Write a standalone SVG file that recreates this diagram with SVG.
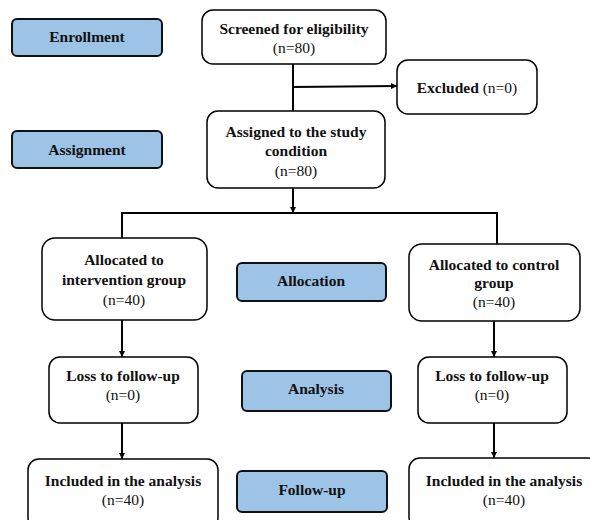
<svg xmlns="http://www.w3.org/2000/svg" width="590" height="520" viewBox="0 0 590 520">
<defs>
<marker id="ah" viewBox="0 0 10 10" refX="10" refY="5" markerWidth="6" markerHeight="6" orient="auto" markerUnits="userSpaceOnUse">
<path d="M0,0 L10,5 L0,10 z" fill="#000"/>
</marker>
</defs>
<style>
.box{fill:#fff;stroke:#000;stroke-width:1.5}
.lab{fill:#9DC3E6;stroke:#111;stroke-width:2}
.t{font-size:15.5px;fill:#111;text-anchor:middle}
.b{font-weight:bold}
.c{fill:none;stroke:#000;stroke-width:2}
</style>
<rect width="590" height="520" fill="#fff"/>
<g id="connectors">
<line class="c" x1="293" y1="64" x2="293" y2="111"/>
<line class="c" x1="293" y1="87" x2="397" y2="86" marker-end="url(#ah)"/>
<line class="c" x1="293" y1="188" x2="293" y2="213" marker-end="url(#ah)"/>
<polyline class="c" points="122,238 122,213 497,213 497,244"/>
<line class="c" x1="122" y1="320" x2="122" y2="357" marker-end="url(#ah)"/>
<line class="c" x1="494" y1="321" x2="494" y2="357" marker-end="url(#ah)"/>
<line class="c" x1="122" y1="423" x2="122" y2="459" marker-end="url(#ah)"/>
<line class="c" x1="494" y1="423" x2="494" y2="458" marker-end="url(#ah)"/>
</g>
<g font-family="Liberation Serif, Times New Roman, serif">
<g id="enrollment"><rect class="lab" x="12" y="19" width="150" height="37" rx="5"/><text class="t b" x="87" y="42">Enrollment</text></g>
<g id="assignment"><rect class="lab" x="12" y="131" width="150" height="37" rx="5"/><text class="t b" x="87" y="155">Assignment</text></g>
<g id="allocation"><rect class="lab" x="237" y="263" width="149" height="38" rx="5"/><text class="t b" x="311" y="286">Allocation</text></g>
<g id="analysis"><rect class="lab" x="242" y="371" width="149" height="40" rx="5"/><text class="t b" x="316" y="394">Analysis</text></g>
<g id="followup"><rect class="lab" x="237" y="471" width="150" height="41" rx="5"/><text class="t b" x="312" y="495">Follow-up</text></g>
<g id="screened"><rect class="box" x="202" y="10" width="184" height="54" rx="11"/><text class="t b" x="294" y="34">Screened for eligibility</text><text class="t" x="294" y="53">(n=80)</text></g>
<g id="excluded"><rect class="box" x="397" y="60" width="140" height="54" rx="11"/><text class="t" x="467" y="93"><tspan class="b">Excluded</tspan> (n=0)</text></g>
<g id="assigned"><rect class="box" x="207" y="111" width="178" height="77" rx="11"/><text class="t b" x="296" y="137">Assigned to the study</text><text class="t b" x="296" y="156">condition</text><text class="t" x="296" y="176">(n=80)</text></g>
<g id="alloc-int"><rect class="box" x="42" y="238" width="165" height="82" rx="13"/><text class="t b" x="124" y="265">Allocated to</text><text class="t b" x="124" y="285">intervention group</text><text class="t" x="124" y="305">(n=40)</text></g>
<g id="alloc-ctl"><rect class="box" x="409" y="244" width="171" height="77" rx="13"/><text class="t b" x="494" y="270">Allocated to control</text><text class="t b" x="494" y="288">group</text><text class="t" x="494" y="307">(n=40)</text></g>
<g id="loss-int"><rect class="box" x="49" y="357" width="149" height="66" rx="11"/><text class="t b" x="123" y="381">Loss to follow-up</text><text class="t" x="123" y="400">(n=0)</text></g>
<g id="loss-ctl"><rect class="box" x="418" y="357" width="149" height="66" rx="11"/><text class="t b" x="492" y="381">Loss to follow-up</text><text class="t" x="492" y="400">(n=0)</text></g>
<g id="incl-int"><rect class="box" x="28" y="459" width="190" height="70" rx="11"/><text class="t b" x="123" y="486">Included in the analysis</text><text class="t" x="123" y="505">(n=40)</text></g>
<g id="incl-ctl"><rect class="box" x="409" y="458" width="190" height="70" rx="11"/><text class="t b" x="504" y="486">Included in the analysis</text><text class="t" x="504" y="505">(n=40)</text></g>
</g>
</svg>
